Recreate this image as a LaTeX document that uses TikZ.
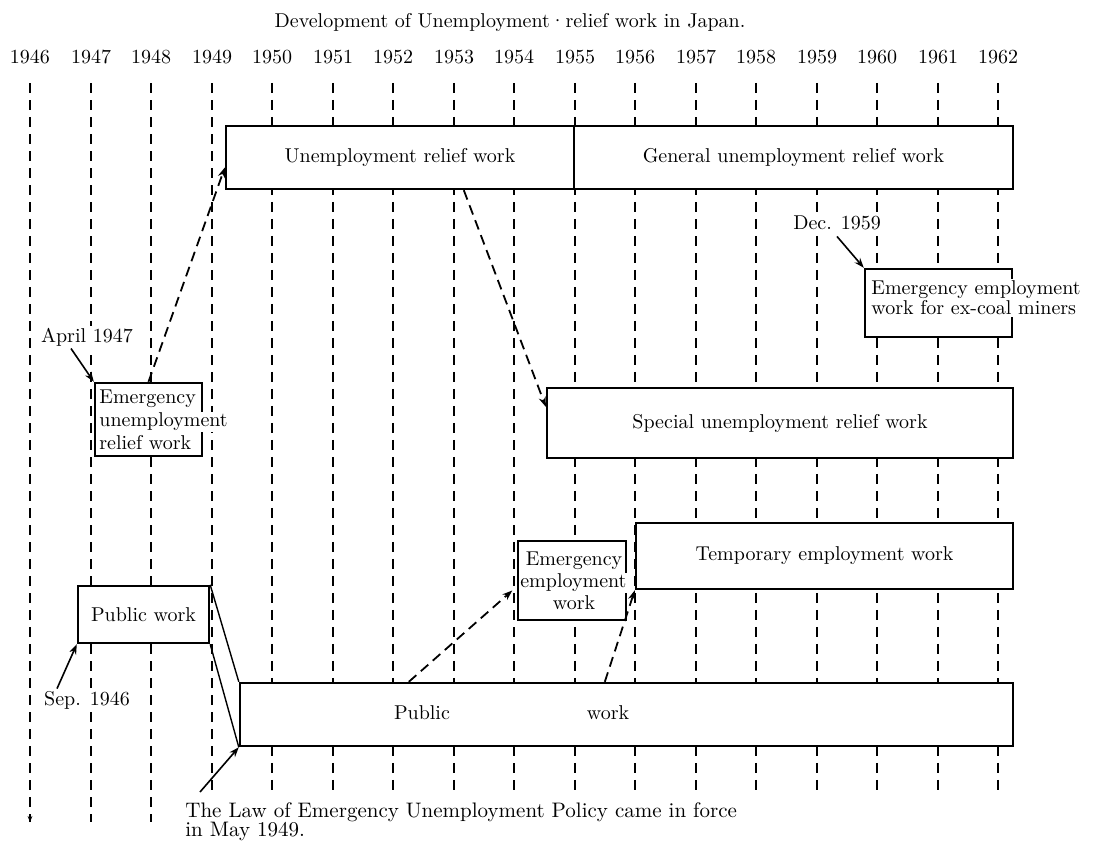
\documentclass[tikz,border=0pt]{standalone}
\usepackage{fontspec}
\usetikzlibrary{arrows.meta}

\tikzset{
  reliefbox/.style={draw, line width=1.2pt, fill=white, inner sep=0pt},
  yearline/.style={line width=1pt, dash pattern=on 5pt off 3.5pt},
  dasharrow/.style={draw, line width=0.9pt, dash pattern=on 5pt off 3pt, -{Stealth[length=5pt,width=3.6pt]}},
  datearrow/.style={draw, line width=0.8pt, -{Stealth[length=5pt,width=3.6pt]}},
  datelabel/.style={fill=white, inner sep=1pt},
  boxtext/.style={inner sep=0pt, font=\fontsize{10}{11}\selectfont}
}
\newcommand{\whitecut}[1]{{\setlength{\fboxsep}{0.6pt}\hspace*{-0.6pt}\colorbox{white}{#1}}}

\begin{document}
\begin{tikzpicture}[x=0.5pt, y=-0.5pt]
  \useasboundingbox (0,0) rectangle (1097,843);

  \node (title) at (510,22) {Development of Unemployment·relief work in Japan.};

  % year scale
  \foreach \yr [count=\i from 0] in {1946,...,1962} {
    \pgfmathsetmacro{\xx}{round(30+60.5*\i)}
    \pgfmathsetmacro{\yb}{\yr<1949 ? 822 : 795}
    \node (y\yr) at (\xx,57) {\yr};
    \coordinate (e\yr) at (\xx,\yb);
    \draw[yearline, shorten <=6pt] (y\yr.south) -- (e\yr);
  }
  \draw[line width=0.6pt, -{Stealth[length=3pt,width=2.4pt]}] ([yshift=3pt]e1946) -- (e1946);

  \begin{scope}[every node/.style={reliefbox}]
    \node (urw)   at (400,157.5)  [minimum width=174pt,   minimum height=31.5pt] {Unemployment relief work};
    \node (gurw)  at (793.5,157.5)[minimum width=219.5pt, minimum height=31.5pt] {General unemployment relief work};
    \node (coal)  at (938.5,303)  [minimum width=73.5pt,  minimum height=34pt]   {};
    \node (eurw)  at (148.5,419.5)[minimum width=53.5pt,  minimum height=36.5pt] {};
    \node (surw)  at (780,423)    [minimum width=233pt,   minimum height=35pt]   {Special unemployment relief work};
    \node (temp)  at (824.5,556)  [minimum width=188.5pt, minimum height=33pt]   {Temporary employment work};
    \node (eew)   at (572,580.5)  [minimum width=54pt,    minimum height=39.5pt] {};
    \node (pw)    at (143.5,614.5)[minimum width=65.5pt,  minimum height=28.5pt] {Public work};
    \node (pwbig) at (626.5,714.5)[minimum width=386.5pt, minimum height=31.5pt] {};
  \end{scope}

  % texts running over the small boxes
  \node[datelabel, anchor=west, align=left, font=\fontsize{10}{10}\selectfont] (coaltxt) at (869,298)
    {Emergency employment\\work for ex-coal miners};
  \node[boxtext, anchor=west, align=left, font=\fontsize{10}{11.5}\selectfont] (eurwtxt) at (99,420)
    {Emergency\\\whitecut{unemployment}\\relief work};
  \node[boxtext, align=center] (eewtxt) at (574,581) {Emergency\\\whitecut{employment}\\work};
  \node (pubL) at (422,713) {Public};
  \node (pubR) at (608,713) {work};

  % dates
  \node[datelabel] (apr) at (87,337) {April 1947};
  \node[datelabel] (dec) at (837,223) {Dec. 1959};
  \node[datelabel] (sep) at (87,700) {Sep. 1946};
  \node[anchor=north west, align=left, inner sep=0pt, font=\fontsize{10.5}{9.5}\selectfont] (law) at (185,802)
    {The Law of Emergency Unemployment Policy came in force\\in May 1949.};

  \draw[line width=0.7pt] (pw.north east) -- (pwbig.north west);
  \draw[line width=0.7pt] (pw.south east) -- (pwbig.south west);

  \begin{scope}[every edge/.style={datearrow}]
    \path ([xshift=-8pt]apr.south) edge (eurw.north west);
    \path ([yshift=-2pt]dec.south) edge (coal.north west);
    \path ([xshift=-15pt]sep.north) edge (pw.south west);
    \path ([xshift=7.5pt,yshift=5pt]law.north west) edge (pwbig.south west);
  \end{scope}

  \begin{scope}[every edge/.style={dasharrow}]
    \path (eurw.north) edge ([yshift=-5pt]urw.west);
    \path ([xshift=119.5pt]urw.south west) edge ([yshift=-10pt]surw.north west);
    \path ([xshift=85pt]pwbig.north west) edge[shorten >=3pt] ([yshift=-3pt]eew.west);
    \path ([xshift=183pt]pwbig.north west) edge (temp.south west);
  \end{scope}

\end{tikzpicture}
\end{document}
